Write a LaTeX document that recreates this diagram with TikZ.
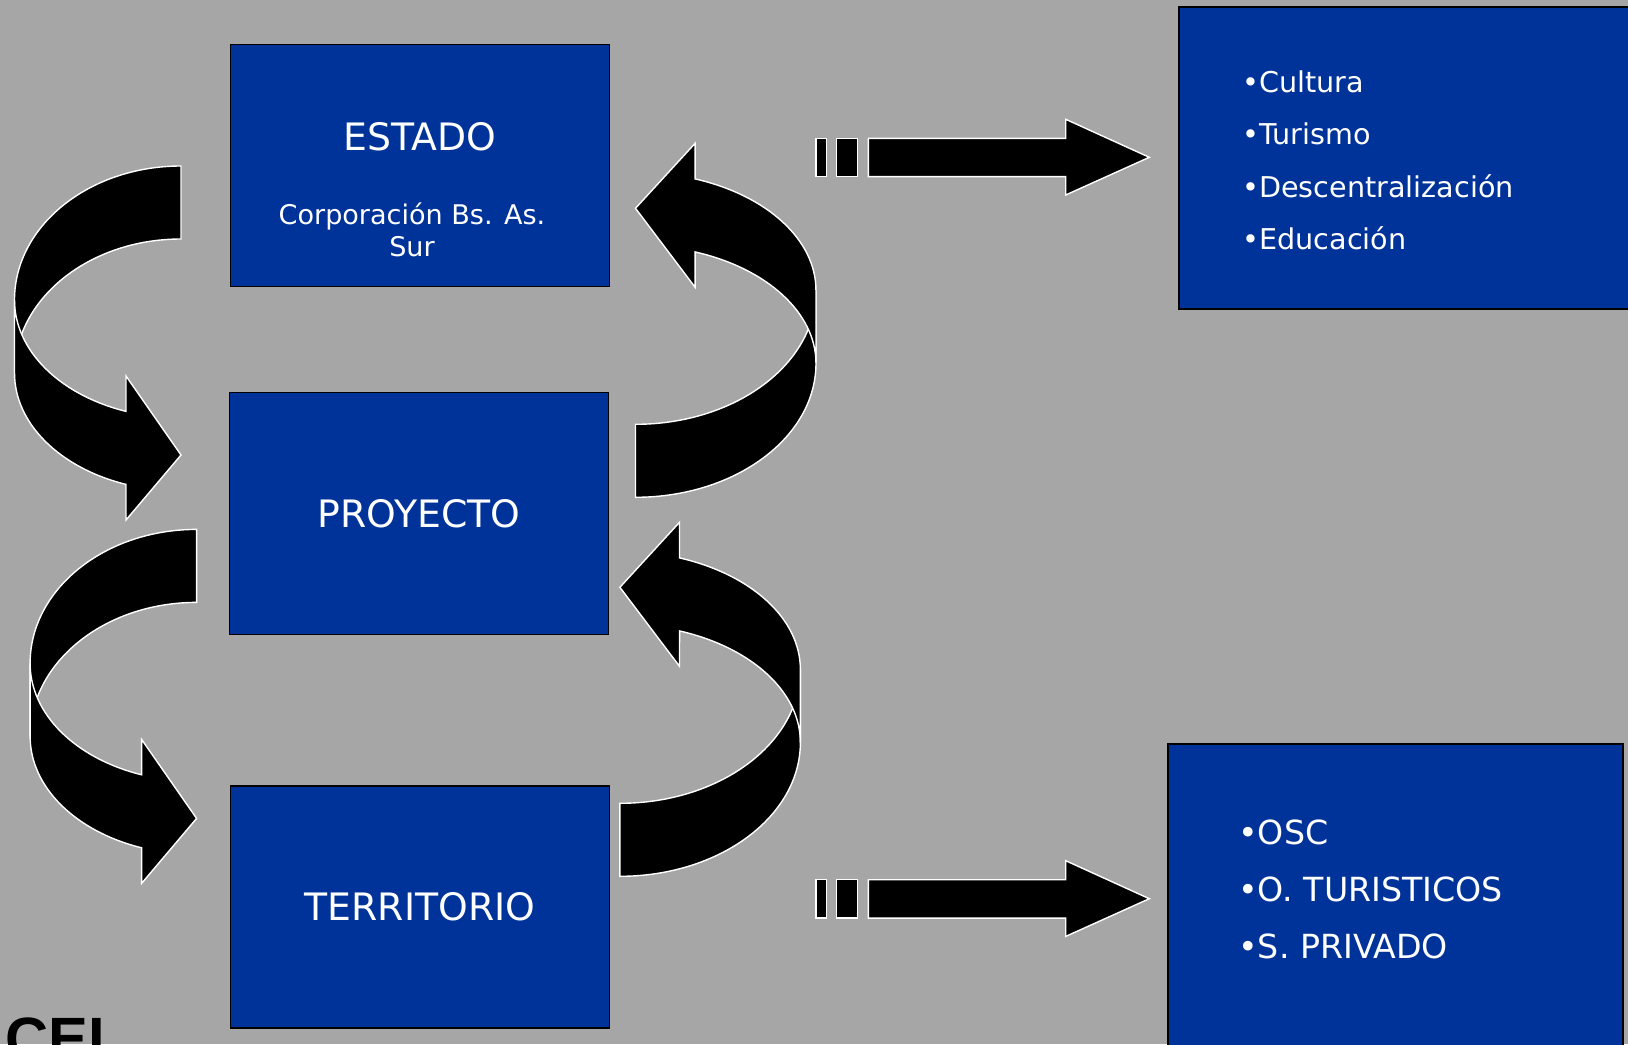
\documentclass[tikz,border=0pt]{standalone}
\usepackage{fontspec}
\setmainfont{DejaVu Sans}
\newfontfamily\logofont{Liberation Sans}
\definecolor{slidegray}{RGB}{166,166,166}
\definecolor{slideblue}{RGB}{0,51,153}
\tikzset{
	box/.style={draw=black,line width=1pt,fill=slideblue,inner sep=0pt,
		minimum width=7.58cm,minimum height=4.84cm,text=white},
	ribbon/.style={fill=black,draw=white,line width=0.8pt},
	title/.style={text=white,font=\fontsize{21.5}{26}\selectfont},
	item/.style={text=white,anchor=base west,inner sep=0pt}
}
% curved arrow, tail top right, head bottom right
\newcommand{\bendarrow}[1]{%
	\begin{scope}[#1]
		\path[ribbon] (181,166) arc[start angle=270,end angle=180,x radius=166.5,y radius=134]
			-- (14.5,373) arc[start angle=180,end angle=270,x radius=166.5,y radius=134] -- cycle;
		\path[ribbon] (14.5,300) arc[start angle=180,end angle=109.3,x radius=166.5,y radius=118]
			-- (126,376) -- (181,455) -- (126,520) -- (126,484.4)
			arc[start angle=109.3,end angle=180,x radius=166.5,y radius=118] -- cycle;
	\end{scope}}
\begin{document}
\begin{tikzpicture}[x=0.02cm,y=-0.02cm]
	\useasboundingbox (0,0) rectangle (1628,1044);
	\fill[slidegray] (0,0) rectangle (1628,1044);
	\clip (0,0) rectangle (1628,1044);

	\node[box] (estado) at (420,165.6) {};
	\node[title] (estadolbl) at (419.5,137) {ESTADO};
	\node[text=white,align=center,font=\fontsize{15.4}{18.2}\selectfont] (corp) at (412,230) {Corporación Bs. As.\\Sur};
	\node[box,font=\fontsize{21.5}{26}\selectfont] (proyecto) at (419,513.5) {PROYECTO};
	\node[box,font=\fontsize{21.5}{26}\selectfont] (territorio) at (420,907) {TERRITORIO};

	\bendarrow{}
	\bendarrow{shift={(15.6,363.4)}}
	\bendarrow{shift={(831.7,663.3)},xscale=-1.084,yscale=-1}
	\bendarrow{shift={(816.1,1042.3)},xscale=-1.084,yscale=-1}

	\foreach \dy in {0,741.4}{
		\begin{scope}[shift={(0,\dy)}]
			\path[ribbon] (816,138.3) rectangle (826.7,176.7);
			\path[ribbon] (836.7,138.3) rectangle (857.3,176.7);
			\path[ribbon] (868.3,138.3) -- (1065.7,138.3) -- (1065.7,119.3) -- (1149.3,157.3)
				-- (1065.7,195) -- (1065.7,176.7) -- (868.3,176.7) -- cycle;
		\end{scope}
	}

	\node[box,minimum width=9.22cm,minimum height=6.04cm] (ejes) at (1409.5,158) {};
	\begin{scope}[every node/.style={item,font=\fontsize{16.3}{20}\selectfont}]
		\node (cultura) at (1242,92.5) {•Cultura};
		\node (turismo) at (1242,144.8) {•Turismo};
		\node (descen) at (1242,197.1) {•Descentralización};
		\node (educ) at (1242,249.5) {•Educación};
	\end{scope}

	\node[box,minimum width=9.1cm,minimum height=6.52cm] (actores) at (1395.5,907) {};
	\begin{scope}[every node/.style={item,font=\fontsize{18.9}{22}\selectfont}]
		\node (osc) at (1238,844) {•OSC};
		\node (oturist) at (1238,901) {•O. TURISTICOS};
		\node (spriv) at (1238,958) {•S. PRIVADO};
	\end{scope}

	\node[anchor=north west,inner sep=0pt,font=\logofont\bfseries\fontsize{34}{36}\selectfont] (logo) at (5,1017) {CEL};
\end{tikzpicture}
\end{document}
